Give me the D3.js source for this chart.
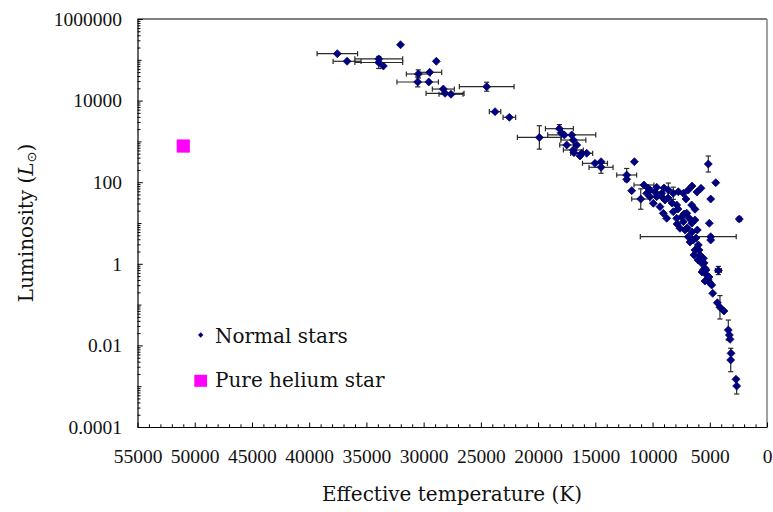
<!DOCTYPE html>
<html>
<head>
<meta charset="utf-8">
<script src="https://cdn.jsdelivr.net/npm/d3@7"></script>
<style>
  body { margin: 0; background: #fff; }
  svg text { font-family: "Liberation Serif", "DejaVu Serif", serif; fill: #111; }
  .big { font-family: "DejaVu Serif", serif; }
</style>
</head>
<body>
<svg id="chart" width="773" height="512"></svg>
<script>
// star data: temperature (K), luminosity (Lsun)
// tErr = temperature error (K), lErr = luminosity error (dex), 0 = no bar
var starT = [37540, 32020, 36690, 33920, 33920, 33520, 28890, 29470, 30460, 30520,
  29550, 28280, 28130, 27610, 24490, 23760, 22510, 19890, 18140, 17940,
  17710, 17060, 16920, 17500, 16620, 16920, 16860, 16190, 15750, 16340,
  15030, 14500, 14500, 11590, 12260, 12260, 10750, 9640, 11820, 11030,
  10220, 9930, 9350, 8910, 8190, 7750, 7310, 9060, 8760, 8190,
  7450, 7010, 6580, 6290, 7600, 7160, 6580, 6880, 6440, 6290,
  5850, 5700, 5420, 5270, 4250, 5770, 4480, 4920, 5040, 4920,
  4920, 5130, 2420, 4830, 4740, 4340, 4110, 3760, 3380, 3290,
  3230, 3140, 3170, 2710, 2650, 10510, 9640, 8620, 6880, 7890,
  6090, 6000, 5560, 6290, 7890, 5560, 5130, 7310, 9200, 10220,
  10400, 9780, 9170, 8650, 8300, 7780, 7250, 6810, 7860, 6990,
  6550, 6730, 6200, 6380, 5940, 6030, 5500, 5680, 5330, 5070,
  5420, 4980, 6550, 6120, 7080, 9000];
var starL = [141000, 234000, 91900, 105000, 85900, 70500, 91900, 49400, 44900, 28600,
  28600, 19200, 15100, 14300, 21900, 5350, 3900, 1250, 2050, 1580,
  1440, 1440, 1080, 816, 816, 615, 529, 511, 511, 439,
  290, 318, 232, 318, 150, 118, 85.4, 75, 61.9, 38.7,
  44.2, 30.4, 25.1, 36.6, 53.5, 58.5, 53.5, 17.3, 13.0, 18.9,
  14.3, 17.3, 27.6, 21.7, 7.41, 6.73, 9.84, 4.61, 3.83, 2.18,
  1.64, 1.03, 0.776, 0.531, 0.686, 70.8, 97.2, 38.7, 9.84, 4.61,
  3.83, 279, 12.5, 0.302, 0.189, 0.111, 0.0859, 0.0697, 0.0238, 0.0180,
  0.0141, 0.0064, 0.00439, 0.00148, 0.00101, 53.5, 44.2, 64.4, 64.4, 27.6,
  6.73, 2.89, 1.36, 11.9, 13.0, 0.705, 0.401, 10.8, 53.5, 64.4,
  72.1, 57.5, 43.4, 41.0, 30.9, 22.0, 16.6, 13.3, 9.45, 7.54,
  6.02, 3.42, 4.29, 1.64, 2.18, 1.24, 1.05, 0.630, 0.705, 0.474,
  0.378, 0.338, 80.7, 57.5, 38.7, 72.1];
var tErr = [1770, 0, 1220, 2090, 2090, 0, 0, 1050, 1050, 1810,
  0, 960, 1660, 1050, 2390, 500, 550, 1920, 1220, 0,
  0, 2100, 1090, 610, 0, 870, 0, 960, 0, 0,
  1090, 0, 1050, 0, 870, 0, 870, 0, 0, 790,
  0, 0, 0, 0, 0, 0, 0, 0, 0, 0,
  0, 0, 0, 0, 0, 0, 0, 4190, 0, 0,
  0, 0, 0, 0, 260, 0, 0, 0, 0, 0,
  0, 0, 170, 0, 0, 0, 0, 0, 0, 0,
  0, 0, 0, 0, 0, 0, 0, 0, 0, 0,
  0, 0, 0, 0, 0, 0, 0, 0, 0, 0,
  0, 0, 0, 0, 0, 0, 0, 0, 0, 0,
  0, 0, 0, 0, 0, 0, 0, 0, 0, 0,
  0, 0, 0, 0, 0, 0];
var lErr = [0, 0, 0, 0, 0.147, 0, 0, 0, 0.1, 0.12,
  0, 0, 0, 0, 0.11, 0, 0, 0.287, 0.1, 0,
  0, 0, 0, 0, 0, 0, 0, 0, 0, 0,
  0, 0, 0.147, 0, 0.16, 0, 0, 0, 0, 0.25,
  0, 0, 0, 0, 0.15, 0, 0, 0, 0, 0,
  0, 0, 0, 0, 0, 0, 0, 0, 0, 0,
  0, 0, 0, 0, 0.1, 0, 0, 0, 0, 0,
  0, 0.196, 0, 0, 0, 0, 0.287, 0, 0.245, 0,
  0, 0, 0.287, 0, 0.196, 0, 0, 0.17, 0, 0,
  0, 0, 0, 0, 0, 0, 0, 0, 0, 0,
  0, 0, 0, 0, 0, 0, 0, 0, 0, 0,
  0, 0, 0, 0, 0, 0, 0, 0, 0, 0,
  0, 0, 0, 0, 0, 0];

var heliumT = [51000];
var heliumL = [770];

var xTicks = [55000, 50000, 45000, 40000, 35000, 30000, 25000, 20000, 15000, 10000, 5000, 0];
var yTicks = [1000000, 10000, 100, 1, 0.01, 0.0001];
var yTickLabels = ["1000000", "10000", "100", "1", "0.01", "0.0001"];

var plotLeft = 137.5, plotRight = 767, plotTop = 19, plotBottom = 427;

var svg = d3.select("#chart");
var x = d3.scaleLinear().domain([55000, 0]).range([plotLeft, plotRight]);
var y = d3.scaleLog().domain([0.0001, 1000000]).range([plotBottom, plotTop]);

// frame: top black, right grey
svg.append("line").attr("x1", plotLeft).attr("x2", plotRight).attr("y1", plotTop).attr("y2", plotTop)
  .attr("stroke", "#000").attr("stroke-width", 1.2);
svg.append("line").attr("x1", plotRight).attr("x2", plotRight).attr("y1", plotTop).attr("y2", plotBottom)
  .attr("stroke", "#8a8a8a").attr("stroke-width", 1.6);

// x axis, minor every 1000
var minorX = d3.range(0, 55001, 1000).filter(function(v){ return v % 5000 !== 0; });
svg.append("g").attr("transform", "translate(0," + plotBottom + ")")
  .call(d3.axisBottom(x).tickValues(minorX).tickSize(-2.7).tickFormat(""))
  .call(function(g){ g.select(".domain").remove(); });
var gx = svg.append("g").attr("transform", "translate(0," + plotBottom + ")")
  .call(d3.axisBottom(x).tickValues(xTicks).tickSize(-4.5).tickSizeOuter(0).tickPadding(22.5).tickFormat(d3.format("d")));
gx.selectAll("text").attr("font-size", 19.5).attr("font-family", null);

// y axis, log minor ticks
var minorY = [];
for (var e = -4; e < 6; e++) {
  for (var k = 2; k <= 9; k++) minorY.push(k * Math.pow(10, e));
}
var decades = d3.range(-4, 7).map(function(e){ return Math.pow(10, e); })
  .filter(function(v){ return yTicks.indexOf(v) < 0; });
svg.append("g").attr("transform", "translate(" + plotLeft + ",0)")
  .call(d3.axisLeft(y).tickValues(minorY).tickSize(-3).tickFormat(""))
  .call(function(g){ g.select(".domain").remove(); });
svg.append("g").attr("transform", "translate(" + plotLeft + ",0)")
  .call(d3.axisLeft(y).tickValues(decades).tickSize(-4).tickFormat(""))
  .call(function(g){ g.select(".domain").remove(); });
var gy = svg.append("g").attr("transform", "translate(" + plotLeft + ",0)")
  .call(d3.axisLeft(y).tickValues(yTicks).tickSize(-5.3).tickSizeOuter(0).tickPadding(15.5)
    .tickFormat(function(d, i){ return yTickLabels[i]; }));
gy.selectAll("text").attr("font-size", 19.5).attr("font-family", null);

svg.selectAll(".tick line").attr("stroke", "#000");
svg.selectAll(".domain").attr("stroke", "#000").attr("stroke-width", 1.2);

// axis titles
svg.append("text").attr("class", "big").attr("x", 452).attr("y", 501).attr("text-anchor", "middle")
  .attr("font-size", 20).text("Effective temperature (K)");
var yt = svg.append("text").attr("class", "big").attr("transform", "translate(33,223) rotate(-90)")
  .attr("text-anchor", "middle").attr("font-size", 20);
yt.append("tspan").text("Luminosity (");
yt.append("tspan").attr("font-style", "italic").text("L");
yt.append("tspan").attr("font-size", 13).attr("dy", 3).attr("font-family", "DejaVu Sans").text("\u2299");
yt.append("tspan").attr("dy", -3).text(")");

// data
var stars = starT.map(function(t, i){
  return { t: t, l: starL[i], te: tErr[i], le: lErr[i] };
});

var bars = svg.append("g").attr("stroke", "#2a2a2a").attr("stroke-width", 1.2).attr("fill", "none");
stars.forEach(function(d){
  var cx = x(d.t), cy = y(d.l);
  if (d.te > 0) {
    var x1 = x(d.t + d.te), x2 = x(d.t - d.te);
    bars.append("line").attr("x1", x1).attr("x2", x2).attr("y1", cy).attr("y2", cy);
    bars.append("line").attr("x1", x1).attr("x2", x1).attr("y1", cy - 2.6).attr("y2", cy + 2.6);
    bars.append("line").attr("x1", x2).attr("x2", x2).attr("y1", cy - 2.6).attr("y2", cy + 2.6);
  }
  if (d.le > 0) {
    var y1 = y(d.l * Math.pow(10, d.le)), y2 = y(d.l / Math.pow(10, d.le));
    bars.append("line").attr("x1", cx).attr("x2", cx).attr("y1", y1).attr("y2", y2);
    bars.append("line").attr("x1", cx - 2.6).attr("x2", cx + 2.6).attr("y1", y1).attr("y2", y1);
    bars.append("line").attr("x1", cx - 2.6).attr("x2", cx + 2.6).attr("y1", y2).attr("y2", y2);
  }
});

var diamond = d3.symbol().type(d3.symbolSquare).size(32);
svg.append("g").selectAll("path").data(stars).join("path")
  .attr("d", diamond)
  .attr("transform", function(d){ return "translate(" + x(d.t) + "," + y(d.l) + ") rotate(45)"; })
  .attr("fill", "#000080").attr("stroke", "#000066").attr("stroke-width", 0.7);

svg.append("g").selectAll("rect").data(heliumT).join("rect")
  .attr("x", function(d){ return x(d) - 6.6; })
  .attr("y", function(d, i){ return y(heliumL[i]) - 6.6; })
  .attr("width", 13.2).attr("height", 13.2)
  .attr("fill", "#ff00ff");

// legend
var lg = svg.append("g");
lg.append("path").attr("d", d3.symbol().type(d3.symbolSquare).size(14))
  .attr("transform", "translate(200.7,335) rotate(45)").attr("fill", "#000080");
lg.append("text").attr("class", "big").attr("x", 215).attr("y", 343).attr("font-size", 20).text("Normal stars");
lg.append("rect").attr("x", 194.3).attr("y", 374.8).attr("width", 12.8).attr("height", 12)
  .attr("fill", "#ff00ff");
lg.append("text").attr("class", "big").attr("x", 215).attr("y", 387).attr("font-size", 20).text("Pure helium star");
</script>
</body>
</html>
